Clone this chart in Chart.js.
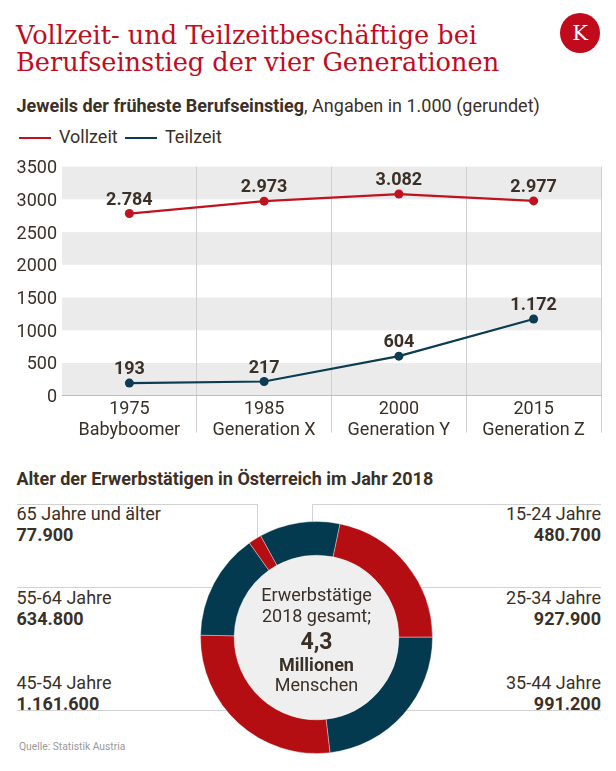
<!DOCTYPE html>
<html lang="de"><head><meta charset="utf-8">
<script src="https://cdn.jsdelivr.net/npm/chart.js@4.4.1/dist/chart.umd.min.js"></script>
<style>
html,body{margin:0;padding:0;background:#fff;}
body{width:616px;height:771px;position:relative;overflow:hidden;font-family:Roboto,"Liberation Sans",sans-serif;color:#3b3027;}
.t{position:absolute;white-space:nowrap;line-height:normal;font-size:18px;}
.title{font-family:"DejaVu Serif",serif;font-size:25.6px;color:#bf0d1f;left:16px;}
.b{font-weight:bold;}
.ln{position:absolute;background:#d2d2d2;}
#logo{position:absolute;left:560px;top:13px;width:40px;height:40px;border-radius:50%;background:#c10a1b;color:#fff;font-family:"DejaVu Serif",serif;font-size:21px;line-height:40px;text-align:center;}
#lineWrap{position:absolute;left:0;top:150px;width:616px;height:300px;}
#donutWrap{position:absolute;left:196px;top:517px;width:241px;height:241px;z-index:2;}
.ctr{position:absolute;left:216.5px;width:200px;text-align:center;z-index:3;white-space:nowrap;line-height:normal;}
.leg{position:absolute;height:2px;top:136.5px;width:32px;}
</style></head>
<body>
<div class="t title" style="top:20.3px">Vollzeit- und Teilzeitbeschäftige bei</div>
<div class="t title" style="top:47.3px">Berufseinstieg der vier Generationen</div>
<div id="logo">K</div>
<div class="t" style="left:16.5px;top:95.3px"><span class="b">Jeweils der früheste Berufseinstieg</span>, Angaben in 1.000 (gerundet)</div>
<div id="legend"></div>
<div id="lineWrap"><canvas id="lineChart" width="616" height="300"></canvas></div>

<div class="t b" style="left:16.5px;top:468.3px">Alter der Erwerbstätigen in Österreich im Jahr 2018</div>
<div class="ln" style="left:17px;top:504px;width:240px;height:1px"></div>
<div class="ln" style="left:257px;top:504px;width:1px;height:60px"></div>
<div class="ln" style="left:312px;top:504px;width:289px;height:1px"></div>
<div class="ln" style="left:312px;top:504px;width:1px;height:40px"></div>
<div class="ln" style="left:17px;top:587px;width:230px;height:1px"></div>
<div class="ln" style="left:390px;top:587px;width:211px;height:1px"></div>
<div class="ln" style="left:17px;top:710px;width:240px;height:1px"></div>
<div class="ln" style="left:380px;top:710px;width:221px;height:1px"></div>
<div id="sideLabels"></div>
<div id="donutWrap"><canvas id="donutChart" width="241" height="241"></canvas></div>
<div id="center"></div>
<div class="t" style="left:19px;top:740px;font-size:10.3px;color:#9a9a9a">Quelle: Statistik Austria</div>

<script>
// ---- data: line chart ----
const years = ['1975', '1985', '2000', '2015'];
const generations = ['Babyboomer', 'Generation X', 'Generation Y', 'Generation Z'];
const seriesNames = ['Vollzeit', 'Teilzeit'];
const vollzeit = [2784, 2973, 3082, 2977];
const teilzeit = [193, 217, 604, 1172];
const yMin = 0, yMax = 3500, yStep = 500;

// ---- data: doughnut ----
const ageGroups = ['15-24 Jahre', '25-34 Jahre', '35-44 Jahre', '45-54 Jahre', '55-64 Jahre', '65 Jahre und älter'];
const workers = [480700, 927900, 991200, 1161600, 634800, 77900];
const centerLines = ['Erwerbstätige', '2018 gesamt;'];
const centerUnit = ['Millionen', 'Menschen'];

// ---- style ----
const TEXT = '#3b3027';
const RED_LINE = '#c0131f', TEAL_LINE = '#0b3c51';
const RED_DONUT = '#b40e12', TEAL_DONUT = '#043a50';
const BAND = '#ebebeb';

const fmt = v => String(v).replace(/\B(?=(\d{3})+(?!\d))/g, '.');

Chart.defaults.font.family = 'Roboto';
Chart.defaults.font.size = 18;
Chart.defaults.color = TEXT;

// legend (HTML, built from series names)
const legendSlots = [{line: 19, text: 59}, {line: 125, text: 165}];
const legendColors = [RED_LINE, TEAL_LINE];
const legendEl = document.getElementById('legend');
seriesNames.forEach((n, i) => {
  const l = document.createElement('div');
  l.className = 'leg'; l.style.left = legendSlots[i].line + 'px'; l.style.background = legendColors[i];
  legendEl.appendChild(l);
  const t = document.createElement('div');
  t.className = 't'; t.style.left = legendSlots[i].text + 'px'; t.style.top = '126.3px'; t.textContent = n;
  legendEl.appendChild(t);
});

const bandPlugin = {
  id: 'bands',
  beforeDraw(chart) {
    const {ctx, chartArea, scales: {y}} = chart;
    ctx.save();
    ctx.fillStyle = BAND;
    for (let i = 0; i + 1 < y.ticks.length; i += 2) {
      const p0 = y.getPixelForValue(y.ticks[i].value);
      const p1 = y.getPixelForValue(y.ticks[i + 1].value);
      ctx.fillRect(chartArea.left, p1, chartArea.right - chartArea.left, p0 - p1);
    }
    ctx.restore();
  }
};

const valueLabels = {
  id: 'valueLabels',
  afterDatasetsDraw(chart) {
    const ctx = chart.ctx;
    ctx.save();
    ctx.font = 'bold 18px Roboto';
    ctx.fillStyle = TEXT;
    ctx.textAlign = 'center';
    ctx.textBaseline = 'alphabetic';
    chart.data.datasets.forEach((ds, i) => {
      chart.getDatasetMeta(i).data.forEach((pt, j) => {
        ctx.fillText(fmt(ds.data[j]), pt.x, pt.y - 9);
      });
    });
    ctx.restore();
  }
};

const nCats = years.length;
new Chart(document.getElementById('lineChart'), {
  type: 'line',
  data: {
    labels: years.map((y, i) => [y, generations[i]]),
    datasets: [
      {label: seriesNames[0], data: vollzeit, borderColor: RED_LINE, backgroundColor: RED_LINE,
       borderWidth: 2.2, pointRadius: 4.5, pointBorderWidth: 0, pointBackgroundColor: RED_LINE, tension: 0},
      {label: seriesNames[1], data: teilzeit, borderColor: TEAL_LINE, backgroundColor: TEAL_LINE,
       borderWidth: 2.2, pointRadius: 4.5, pointBorderWidth: 0, pointBackgroundColor: TEAL_LINE, tension: 0}
    ]
  },
  options: {
    responsive: false, animation: false, devicePixelRatio: 1,
    layout: {padding: {top: 16.7, right: 15, left: 0, bottom: 0}},
    plugins: {legend: {display: false}, tooltip: {enabled: false}},
    scales: {
      x: {
        offset: true,
        grid: {offset: true, tickLength: 37, lineWidth: 1,
               color: c => (c.index === 0 || c.index === nCats) ? 'rgba(0,0,0,0)' : '#cfcfcf'},
        border: {display: true, color: '#bdbdbd', width: 1},
        ticks: {padding: -33.7, font: {size: 18, lineHeight: 1.17}, color: TEXT, maxRotation: 0, autoSkip: false},
        afterFit: s => { s.height = 54.3; }
      },
      y: {
        min: yMin, max: yMax,
        ticks: {stepSize: yStep, padding: 5, labelOffset: 2, color: TEXT, font: {size: 18},
                callback: v => String(v)},
        grid: {display: false, drawTicks: false},
        border: {display: false},
        afterFit: s => { s.width = 62; }
      }
    }
  },
  plugins: [bandPlugin, valueLabels]
});

// doughnut
const holePlugin = {
  id: 'hole',
  beforeDatasetsDraw(chart) {
    const arc = chart.getDatasetMeta(0).data[0];
    if (!arc) return;
    const ctx = chart.ctx;
    ctx.save();
    ctx.beginPath();
    ctx.arc(arc.x, arc.y, arc.innerRadius, 0, Math.PI * 2);
    ctx.fillStyle = '#efefef';
    ctx.fill();
    ctx.restore();
  }
};
new Chart(document.getElementById('donutChart'), {
  type: 'doughnut',
  data: {
    labels: ageGroups,
    datasets: [{data: workers, backgroundColor: workers.map((_, i) => i % 2 === 0 ? TEAL_DONUT : RED_DONUT),
                borderColor: 'rgba(255,255,255,0.35)', borderWidth: 1}]
  },
  options: {
    responsive: false, animation: false, devicePixelRatio: 1,
    rotation: -28.8, radius: 116, cutout: '71%',
    plugins: {legend: {display: false}, tooltip: {enabled: false}}
  },
  plugins: [holePlugin]
});

// side labels (layout slots separate from data)
const slots = [
  {side: 'right', top: 503.3}, {side: 'right', top: 587.3}, {side: 'right', top: 672},
  {side: 'left', top: 672}, {side: 'left', top: 587.3}, {side: 'left', top: 503.3}
];
const sideEl = document.getElementById('sideLabels');
ageGroups.forEach((g, i) => {
  const s = slots[i];
  [g, fmt(workers[i])].forEach((txt, k) => {
    const d = document.createElement('div');
    d.className = 't' + (k ? ' b' : '');
    d.style.top = (s.top + k * 21) + 'px';
    if (s.side === 'left') d.style.left = '16.5px'; else { d.style.right = '15px'; d.style.textAlign = 'right'; }
    d.textContent = txt;
    sideEl.appendChild(d);
  });
});

// center text
const total = workers.reduce((a, b) => a + b, 0);
const totalMio = (total / 1e6).toFixed(1).replace('.', ',');
const centerEl = document.getElementById('center');
const centerSpec = [
  {txt: centerLines[0], size: 18, bold: false, base: 601},
  {txt: centerLines[1], size: 18, bold: false, base: 621.5},
  {txt: totalMio, size: 23, bold: true, base: 649.3},
  {txt: centerUnit[0], size: 18, bold: true, base: 671},
  {txt: centerUnit[1], size: 18, bold: false, base: 691}
];
centerSpec.forEach(c => {
  const d = document.createElement('div');
  d.className = 'ctr';
  d.style.fontSize = c.size + 'px';
  d.style.fontWeight = c.bold ? 'bold' : 'normal';
  d.style.top = (c.base - 0.9277 * c.size) + 'px';
  d.textContent = c.txt;
  centerEl.appendChild(d);
});
</script>
</body></html>
